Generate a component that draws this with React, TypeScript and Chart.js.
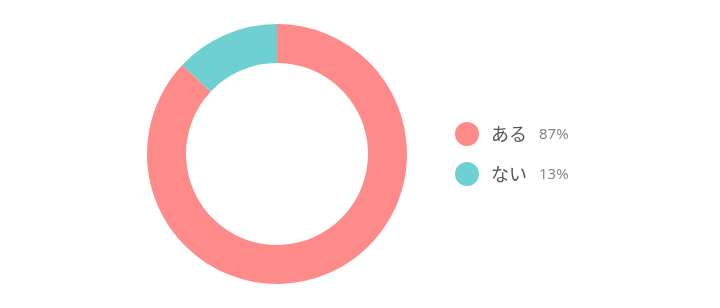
import React, { useEffect, useRef } from "react";
import { Chart, registerables } from "chart.js";

Chart.register(...registerables);

const categories = ["ある", "ない"];
const values = [87, 13];
const colors = ["#ff8a8a", "#6ed0d0"];

const legendPlugin = {
  id: "sideLegend",
  afterDraw(chart: any) {
    const ctx = chart.ctx;
    const labels = chart.data.labels as string[];
    const data = chart.data.datasets[0].data as number[];
    const bg = chart.data.datasets[0].backgroundColor as string[];
    const total = data.reduce((a, b) => a + b, 0);
    ctx.save();
    labels.forEach((lab, i) => {
      const y = 134 + i * 40;
      ctx.beginPath();
      ctx.fillStyle = bg[i];
      ctx.arc(467, y, 12, 0, Math.PI * 2);
      ctx.fill();
      ctx.textBaseline = "middle";
      ctx.textAlign = "left";
      ctx.fillStyle = "#555555";
      ctx.font = '18px "Noto Sans CJK JP", sans-serif';
      ctx.fillText(lab, 491, y);
      const w = ctx.measureText(lab).width;
      ctx.fillStyle = "#888888";
      ctx.font = '15px "Noto Sans", "Noto Sans CJK JP", sans-serif';
      ctx.fillText(Math.round((data[i] / total) * 100) + "%", 491 + w + 12, y + 1);
    });
    ctx.restore();
  },
};

export default function App() {
  const ref = useRef<HTMLCanvasElement>(null);
  useEffect(() => {
    if (!ref.current) return;
    const chart = new Chart(ref.current, {
      type: "doughnut",
      data: {
        labels: categories,
        datasets: [
          {
            data: values,
            backgroundColor: colors,
            borderWidth: 0,
          },
        ],
      },
      options: {
        responsive: false,
        animation: false,
        cutout: "70%",
        layout: { padding: { left: 147, right: 313, top: 24, bottom: 24 } },
        plugins: {
          legend: { display: false },
          tooltip: { enabled: false },
        },
      },
      plugins: [legendPlugin],
    });
    return () => chart.destroy();
  }, []);
  return (
    <div style={{ position: "fixed", left: 0, top: 0, width: 720, height: 308, background: "#fff" }}>
      <canvas ref={ref} width={720} height={308} style={{ display: "block" }} />
    </div>
  );
}
